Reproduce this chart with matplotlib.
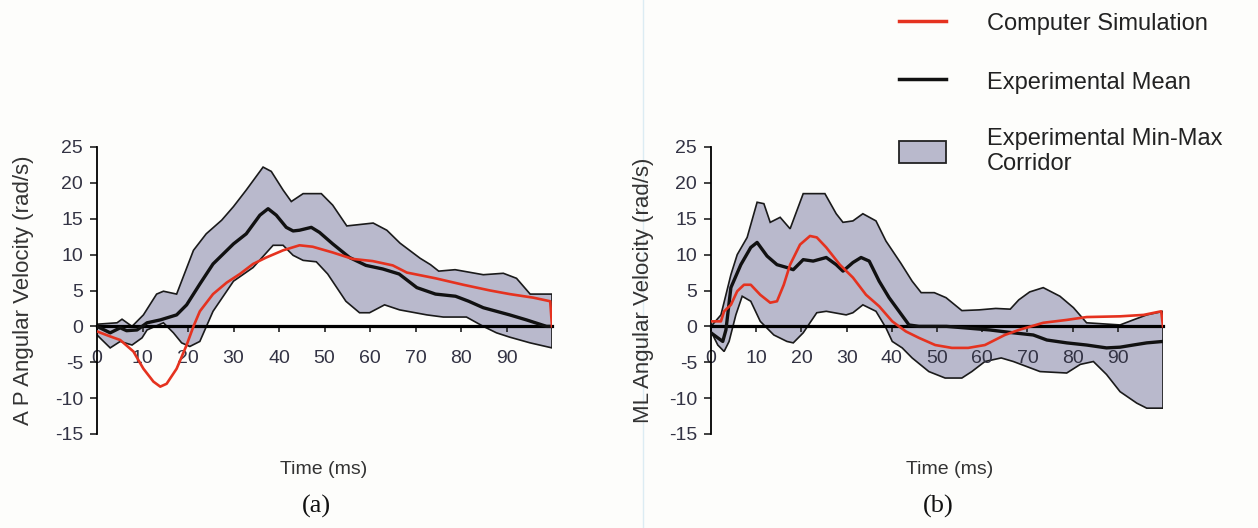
import numpy as np
import matplotlib
matplotlib.use("Agg")
import matplotlib.pyplot as plt
from matplotlib.lines import Line2D
from matplotlib.patches import Patch

# ---- data (time in ms, angular velocity in rad/s) ----
ap_upper_t = [0, 4.4, 5.5, 7.7, 10.2, 13.1, 14.6, 17.5, 21.2, 24.0, 27.4, 30.0, 32.8, 36.5, 38.3,
              40.9, 42.7, 45.3, 49.3, 51.8, 54.9, 60.7, 63.7, 66.6, 71.0, 73.3, 75.1, 78.7, 84.9,
              89.3, 92.2, 95.2, 100]
ap_upper_v = [0.3, 0.5, 1.0, 0.0, 1.6, 4.5, 4.9, 4.5, 10.6, 12.9, 14.8, 16.7, 19.0, 22.2, 21.6,
              19.0, 17.4, 18.5, 18.5, 16.9, 14.0, 14.4, 13.4, 11.6, 9.5, 8.6, 7.7, 7.9, 7.2,
              7.4, 6.7, 4.5, 4.5]
ap_lower_t = [0, 2.9, 5.1, 7.7, 9.9, 11.0, 14.6, 16.8, 18.6, 20.4, 22.6, 25.5, 30.0, 34.3, 38.7,
              40.9, 43.1, 45.3, 48.2, 50.7, 54.7, 57.7, 59.9, 63.2, 66.5, 72.5, 76.1, 81.2, 84.9,
              87.8, 90.7, 95.2, 100]
ap_lower_v = [-1.2, -3.0, -2.1, -2.6, -1.6, -0.5, 0.5, -0.9, -2.3, -2.8, -2.1, 2.1, 6.3, 8.2, 11.3,
              11.3, 9.9, 9.2, 9.0, 7.3, 3.5, 1.9, 1.9, 3.0, 2.3, 1.6, 1.3, 1.3, 0.0,
              -0.9, -1.5, -2.3, -3.0]
ap_mean_t = [0, 2.9, 5.1, 6.5, 8.8, 11.0, 13.9, 17.5, 19.7, 22.6, 25.5, 30.0, 32.8, 35.8, 37.6,
             39.4, 41.6, 43.1, 44.5, 47.1, 48.9, 51.8, 55.5, 59.1, 62.8, 66.4, 70.3, 74.4, 78.8,
             81.7, 84.9, 87.8, 90.7, 94.4, 98.8, 100]
ap_mean_v = [0.0, -0.9, -0.2, -0.6, -0.5, 0.5, 0.9, 1.6, 3.0, 5.9, 8.7, 11.5, 12.9, 15.5, 16.4,
             15.5, 13.8, 13.3, 13.4, 13.8, 13.1, 11.5, 9.6, 8.5, 8.0, 7.3, 5.4, 4.5, 4.2,
             3.5, 2.6, 2.1, 1.6, 0.9, 0.0, 0.0]
ap_sim_t = [0, 2.9, 5.1, 8.0, 10.2, 12.4, 13.9, 15.3, 17.5, 19.7, 21.2, 22.6, 25.5, 28.5, 31.4,
            34.3, 37.2, 40.9, 44.5, 47.4, 51.8, 56.2, 60.6, 65.0, 68.1, 74.4, 80.5, 86.4, 90.7,
            95.9, 99.6, 100]
ap_sim_v = [-0.7, -1.4, -1.9, -3.5, -5.9, -7.7, -8.4, -8.0, -5.9, -2.6, 0.0, 2.1, 4.5, 6.1, 7.3,
            8.7, 9.6, 10.6, 11.3, 11.1, 10.3, 9.4, 9.1, 8.5, 7.5, 6.7, 5.8, 5.0, 4.5,
            4.0, 3.5, 0.0]

ml_upper_t = [0, 2.2, 4.4, 5.8, 8.0, 10.2, 11.7, 13.1, 15.3, 17.5, 20.4, 25.2, 27.7, 29.2, 31.4,
              33.6, 36.5, 38.7, 42.0, 44.5, 46.5, 49.4, 52.0, 55.5, 59.3, 63.0, 66.2, 68.1, 70.5,
              73.5, 77.2, 80.2, 83.1, 90.5, 93.4, 96.4, 100]
ml_upper_v = [0.0, 1.6, 7.2, 10.0, 12.4, 17.3, 17.1, 14.5, 15.2, 13.6, 18.5, 18.5, 15.7, 14.5, 14.7,
              15.7, 14.7, 11.9, 8.8, 6.3, 4.7, 4.7, 4.0, 2.2, 2.3, 2.5, 2.4, 3.7, 4.8,
              5.4, 4.2, 2.6, 0.5, 0.2, 0.9, 1.6, 2.1]
ml_lower_t = [0, 1.5, 2.9, 4.0, 5.5, 6.9, 8.8, 10.9, 13.9, 16.8, 18.2, 20.4, 23.4, 25.5, 29.9,
              31.4, 33.6, 36.5, 38.7, 40.1, 42.3, 44.5, 48.2, 51.8, 55.5, 57.7, 60.6, 64.2, 66.9,
              72.8, 78.7, 81.7, 84.6, 87.5, 90.5, 94.2, 96.4, 100]
ml_lower_v = [-0.7, -2.6, -3.5, -2.1, 1.6, 4.2, 3.5, 0.7, -1.2, -2.1, -2.3, -0.9, 1.9, 2.1, 1.6,
              1.9, 3.0, 2.1, -0.2, -2.1, -3.0, -4.4, -6.3, -7.2, -7.2, -6.3, -4.9, -4.4, -4.9,
              -6.3, -6.5, -5.3, -4.9, -6.7, -9.1, -10.7, -11.4, -11.4]
ml_mean_t = [0, 1.5, 2.6, 3.3, 4.4, 6.6, 8.8, 10.2, 12.4, 14.6, 16.8, 18.2, 20.4, 22.6, 25.5,
             27.7, 29.2, 31.4, 33.2, 35.0, 37.2, 39.4, 41.6, 43.8, 46.0, 52.1, 61.7, 66.9, 71.3,
             74.3, 78.7, 83.1, 87.5, 90.5, 93.4, 96.4, 100]
ml_mean_v = [-0.9, -1.6, -2.1, -0.5, 5.4, 8.6, 11.0, 11.7, 9.8, 8.6, 8.2, 7.9, 9.3, 9.1, 9.6,
             8.6, 7.7, 8.9, 9.6, 9.1, 6.3, 4.0, 2.1, 0.2, 0.0, 0.0, -0.5, -0.9, -1.2,
             -1.9, -2.3, -2.6, -3.0, -2.9, -2.6, -2.3, -2.1]
ml_sim_t = [0, 2.2, 2.9, 4.4, 5.8, 7.3, 8.8, 10.9, 13.1, 14.6, 16.1, 17.5, 19.7, 21.9, 23.4,
            25.5, 28.5, 31.4, 34.3, 37.2, 40.1, 43.1, 46.0, 49.6, 53.3, 56.9, 60.6, 65.0, 68.1,
            73.5, 78.7, 83.1, 90.5, 95.7, 99.6, 100]
ml_sim_v = [0.7, 0.7, 2.1, 3.0, 4.9, 5.8, 5.8, 4.4, 3.3, 3.5, 5.8, 8.6, 11.4, 12.6, 12.4,
            11.0, 8.6, 6.8, 4.4, 2.8, 0.7, -0.7, -1.6, -2.6, -3.0, -3.0, -2.6, -1.2, -0.5,
            0.5, 0.9, 1.3, 1.4, 1.6, 2.1, 0.0]

y_ticks = [-15, -10, -5, 0, 5, 10, 15, 20, 25]
x_ticks = [0, 10, 20, 30, 40, 50, 60, 70, 80, 90]

RED = '#e5321f'
BAND = '#b9b9cc'

plt.rcParams['font.family'] = ['Liberation Sans', 'DejaVu Sans']
plt.rcParams['axes.unicode_minus'] = False

W, H = 1258, 528
fig = plt.figure(figsize=(W / 100, H / 100), dpi=100)
fig.patch.set_facecolor('#fdfdfb')

# faint page border line between the panels
fig.add_artist(Line2D([643 / W, 643 / W], [0, 1], color='#dcecf3', lw=1.0))


def draw_panel(ax, up_t, up_v, lo_t, lo_v, mean_t, mean_v, sim_t, sim_v, ylabel, ylabel_x):
    ax.set_facecolor('none')
    band_x = np.concatenate([up_t, lo_t[::-1]])
    band_y = np.concatenate([up_v, lo_v[::-1]])
    ax.fill(band_x, band_y, facecolor=BAND, edgecolor='#1a1a1a', lw=1.2, zorder=1)
    ax.plot(mean_t, mean_v, color='#111111', lw=2.4, zorder=3)
    ax.plot(sim_t, sim_v, color=RED, lw=1.9, zorder=4)

    ax.set_xlim(0, 100)
    ax.set_ylim(-15, 25)
    ax.spines['top'].set_visible(False)
    ax.spines['right'].set_visible(False)
    ax.spines['bottom'].set_position(('data', 0))
    ax.spines['bottom'].set_linewidth(2.3)
    ax.spines['bottom'].set_zorder(2.6)
    ax.spines['left'].set_linewidth(1.3)
    ax.set_xticks(x_ticks)
    ax.set_yticks(y_ticks)
    ax.tick_params(axis='x', direction='out', length=4, width=1.2, pad=13, labelsize=14,
                   colors='#222222', labelcolor='#333344')
    ax.tick_params(axis='y', direction='out', length=5, width=1.2, pad=5, labelsize=14,
                   colors='#222222', labelcolor='#333344')
    fig.text(ylabel_x, 1 - 290 / H, ylabel, rotation=90, ha='center', va='center',
             fontsize=16, color='#333333')


ax1 = fig.add_axes([97 / W, (H - 434) / H, 455 / W, 287 / H])
draw_panel(ax1, ap_upper_t, ap_upper_v, ap_lower_t, ap_lower_v, ap_mean_t, ap_mean_v,
           ap_sim_t, ap_sim_v, 'A P Angular Velocity (rad/s)', 24 / W)

ax2 = fig.add_axes([711 / W, (H - 434) / H, 452 / W, 287 / H])
draw_panel(ax2, ml_upper_t, ml_upper_v, ml_lower_t, ml_lower_v, ml_mean_t, ml_mean_v,
           ml_sim_t, ml_sim_v, 'ML Angular Velocity (rad/s)', 643 / W)

# axis titles and panel letters
fig.text(324 / W, 1 - 470 / H, 'Time (ms)', ha='center', va='center', fontsize=14, color='#333333')
fig.text(950 / W, 1 - 470 / H, 'Time (ms)', ha='center', va='center', fontsize=14, color='#333333')
fig.text(316 / W, 1 - 506 / H, '(a)', ha='center', va='center', fontsize=19,
         family=['Liberation Serif', 'DejaVu Serif'], color='#111111')
fig.text(938 / W, 1 - 506 / H, '(b)', ha='center', va='center', fontsize=19,
         family=['Liberation Serif', 'DejaVu Serif'], color='#111111')

# legend
handles = [Line2D([], [], color=RED, lw=2.5),
           Line2D([], [], color='#111111', lw=2.5),
           Patch(facecolor=BAND, edgecolor='#222222', lw=1.3)]
labels = ['Computer Simulation', 'Experimental Mean', 'Experimental Min-Max\nCorridor']
fig.legend(handles, labels, loc='upper left', bbox_to_anchor=(878 / W, 1.0 + 10 / H),
           frameon=False, fontsize=17, handlelength=2.0, handleheight=1.05,
           handletextpad=1.7, labelspacing=1.45, labelcolor='#222222')

fig.savefig('out.png', dpi=100, facecolor=fig.get_facecolor())
